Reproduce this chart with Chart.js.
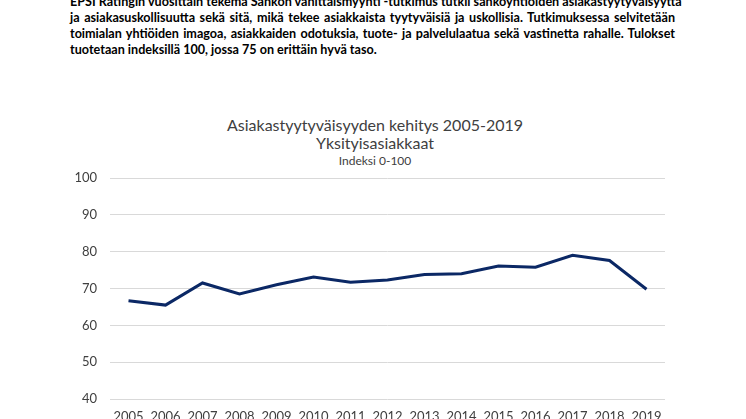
<!DOCTYPE html>
<html>
<head>
<meta charset="utf-8">
<script src="https://cdn.jsdelivr.net/npm/chart.js@4/dist/chart.umd.min.js"></script>
<style>
  html, body { margin: 0; padding: 0; background: #fff; }
  body { width: 746px; height: 419px; overflow: hidden; position: relative; }
  .intro {
    position: absolute; left: 70px; top: -6px; width: 605px;
    font: bold 12.6px Lato, "Open Sans", sans-serif; color: #000;
    line-height: 16px;
  }
  .intro div { white-space: nowrap; text-align: justify; text-align-last: justify; }
  .intro div.last { text-align-last: left; }
  .titles {
    position: absolute; left: 175px; width: 400px; top: 116px;
    text-align: center; color: #404040; font-family: Lato, "Open Sans", sans-serif;
  }
  .titles .t { font-size: 16px; line-height: 18px; }
  .titles .s { font-size: 12px; line-height: 18px; }
  .wrap { position: absolute; left: 0; top: 100px; width: 746px; height: 326px; }
</style>
</head>
<body>
<div class="intro">
  <div>EPSI Ratingin vuosittain tekemä Sähkön vähittäismyynti -tutkimus tutkii sähköyhtiöiden asiakastyytyväisyyttä</div>
  <div>ja asiakasuskollisuutta sekä sitä, mikä tekee asiakkaista tyytyväisiä ja uskollisia. Tutkimuksessa selvitetään</div>
  <div>toimialan yhtiöiden imagoa, asiakkaiden odotuksia, tuote- ja palvelulaatua sekä vastinetta rahalle. Tulokset</div>
  <div class="last">tuotetaan indeksillä 100, jossa 75 on erittäin hyvä taso.</div>
</div>
<div class="titles" id="titles"></div>
<div class="wrap"><canvas id="chart"></canvas></div>
<script>
  const years = ["2005", "2006", "2007", "2008", "2009", "2010", "2011", "2012",
                 "2013", "2014", "2015", "2016", "2017", "2018", "2019"];
  const indexValues = [66.7, 65.5, 71.5, 68.5, 71.0, 73.1, 71.7, 72.3,
                       73.8, 74.0, 76.1, 75.8, 79.0, 77.6, 69.8];
  const titleLines = ["Asiakastyytyväisyyden kehitys 2005-2019", "Yksityisasiakkaat"];
  const subtitleText = "Indeksi 0-100";

  const font = "Lato, 'Open Sans', sans-serif";

  // chart title block (kept centred over the page like the original)
  const titles = document.getElementById("titles");
  titleLines.forEach((line) => {
    const d = document.createElement("div");
    d.className = "t";
    d.textContent = line;
    titles.appendChild(d);
  });
  const sub = document.createElement("div");
  sub.className = "s";
  sub.textContent = subtitleText;
  titles.appendChild(sub);

  new Chart(document.getElementById("chart").getContext("2d"), {
    type: "line",
    data: {
      labels: years,
      datasets: [{
        data: indexValues,
        borderColor: "#0b2865",
        borderWidth: 3,
        pointRadius: 0,
        tension: 0,
        fill: false
      }]
    },
    options: {
      responsive: true,
      maintainAspectRatio: false,
      animation: false,
      layout: { padding: { left: 70, right: 81, top: 78, bottom: 0 } },
      plugins: {
        legend: { display: false },
        tooltip: { enabled: false },
        title: { display: false }
      },
      scales: {
        x: {
          offset: true,
          grid: { display: false, drawTicks: false },
          border: { display: false },
          ticks: { color: "#404040", font: { family: font, size: 13 }, padding: 10, maxRotation: 0, autoSkip: false },
          afterFit: (axis) => { axis.height = 27; }
        },
        y: {
          min: 40,
          max: 100,
          grid: { color: "#d9d9d9", lineWidth: 1, drawTicks: false },
          border: { display: false },
          ticks: { stepSize: 10, color: "#404040", font: { family: font, size: 13 }, padding: 13 },
          afterFit: (axis) => { axis.width = 40; }
        }
      }
    }
  });
</script>
</body>
</html>
